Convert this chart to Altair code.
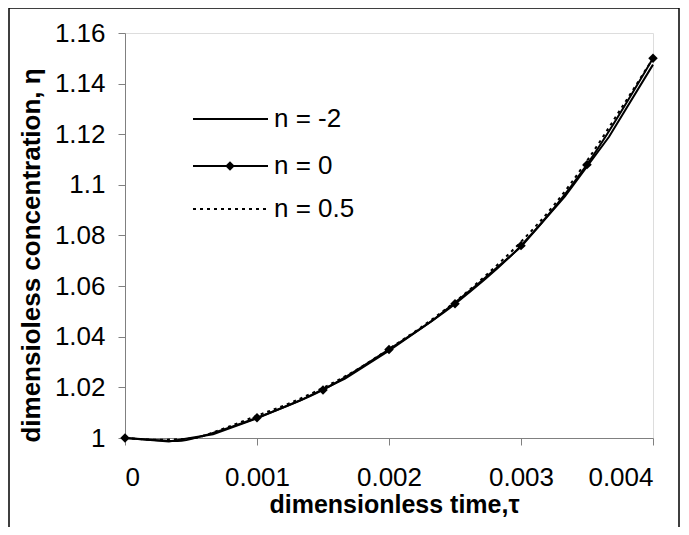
import altair as alt
import pandas as pd

# ---- data ----
# n = -2 (solid, coarse sampling)
tau_m2 = [0.0, 0.000333, 0.000667, 0.001, 0.001333, 0.001667, 0.002, 0.002333,
          0.002667, 0.003, 0.003333, 0.003667, 0.004]
eta_m2 = [1.000, 0.9986, 1.0015, 1.0078, 1.0150, 1.0235, 1.0345, 1.0465,
          1.0605, 1.0755, 1.0955, 1.1190, 1.1475]

# n = 0 (solid with diamond markers)
tau_0 = [0.0, 0.0002, 0.0004, 0.0006, 0.0008, 0.001, 0.0015, 0.002, 0.0025,
         0.003, 0.0035, 0.004]
eta_0 = [1.000, 0.9993, 0.9988, 1.0010, 1.0043, 1.008, 1.019, 1.035, 1.053,
         1.076, 1.108, 1.150]
tau_0_markers = [0.0, 0.001, 0.0015, 0.002, 0.0025, 0.003, 0.0035, 0.004]
eta_0_markers = [1.000, 1.008, 1.019, 1.035, 1.053, 1.076, 1.108, 1.150]

# n = 0.5 (dotted)
tau_05 = [0.0, 0.00025, 0.0005, 0.00075, 0.001, 0.00125, 0.0015, 0.00175,
          0.002, 0.00225, 0.0025, 0.00275, 0.003, 0.00325, 0.0035, 0.00375, 0.004]
eta_05 = [1.000, 0.9993, 0.9998, 1.0038, 1.0088, 1.0138, 1.0198, 1.0268,
          1.0352, 1.0440, 1.0538, 1.0650, 1.0775, 1.0920, 1.1095, 1.1295, 1.1500]

legend_labels = ["n = -2", "n = 0", "n = 0.5"]
x_ticks = [0, 0.001, 0.002, 0.003, 0.004]
y_ticks = [1.0, 1.02, 1.04, 1.06, 1.08, 1.10, 1.12, 1.14, 1.16]

FONT = "Liberation Sans"

df_m2 = pd.DataFrame({"tau": tau_m2, "eta": eta_m2})
df_0 = pd.DataFrame({"tau": tau_0, "eta": eta_0})
df_0m = pd.DataFrame({"tau": tau_0_markers, "eta": eta_0_markers})
df_05 = pd.DataFrame({"tau": tau_05, "eta": eta_05})

xscale = alt.Scale(domain=[0, 0.004], nice=False, zero=False)
yscale = alt.Scale(domain=[1.0, 1.16], nice=False, zero=False)

xaxis = alt.Axis(
    values=x_ticks, format="~g", grid=False,
    domainColor="#808080", tickColor="#808080", tickSize=7,
    labelFontSize=26, labelFont=FONT, labelColor="black", labelPadding=19,
    title="dimensionless time,τ", titleFont=FONT, titleFontSize=25,
    titleFontWeight="bold", titleColor="black",
    titleX=269, titleY=66, titleBaseline="middle", titleAnchor="middle",
)
yaxis = alt.Axis(
    values=y_ticks, format="~g", grid=False,
    domainColor="#808080", tickColor="#808080", tickSize=7,
    labelFontSize=26, labelFont=FONT, labelColor="black", labelPadding=13,
    title="dimensioless concentration, η", titleFont=FONT, titleFontSize=26,
    titleFontWeight="bold", titleColor="black",
    titleX=-94, titleY=222, titleAngle=270, titleBaseline="middle",
    titleAlign="center",
)

base_x = alt.X("tau:Q", scale=xscale, axis=xaxis)
base_y = alt.Y("eta:Q", scale=yscale, axis=yaxis)

line_m2 = alt.Chart(df_m2).mark_line(color="black", strokeWidth=2).encode(
    x=base_x, y=base_y)
line_0 = alt.Chart(df_0).mark_line(color="black", strokeWidth=2, interpolate="monotone").encode(
    x=alt.X("tau:Q", scale=xscale), y=alt.Y("eta:Q", scale=yscale))
pts_0 = alt.Chart(df_0m).mark_point(shape="diamond", filled=True, color="black",
                                    size=90, opacity=1).encode(
    x=alt.X("tau:Q", scale=xscale), y=alt.Y("eta:Q", scale=yscale))
line_05 = alt.Chart(df_05).mark_line(color="black", strokeWidth=2,
                                     strokeDash=[3, 4], interpolate="monotone").encode(
    x=alt.X("tau:Q", scale=xscale), y=alt.Y("eta:Q", scale=yscale))

one = pd.DataFrame({"k": [0]})

# legend (drawn inside plot)
leg_rows = [86, 133, 176]
leg_layers = []
for i, lab in enumerate(legend_labels):
    props = dict(color="black", strokeWidth=2)
    if i == 2:
        props["strokeDash"] = [3, 4]
    leg_layers.append(alt.Chart(one).mark_rule(**props).encode(
        x=alt.value(68), x2=alt.value(143), y=alt.value(leg_rows[i])))
    leg_layers.append(alt.Chart(pd.DataFrame({"label": [lab]})).mark_text(
        align="left", baseline="middle", font=FONT, fontSize=26, color="black").encode(
        x=alt.value(149), y=alt.value(leg_rows[i]), text="label:N"))
leg_layers.append(alt.Chart(one).mark_point(shape="diamond", filled=True, color="black",
                                            size=90, opacity=1).encode(
    x=alt.value(105), y=alt.value(leg_rows[1])))

frame = alt.Chart(one).mark_rect(fill=None, stroke="black", strokeWidth=1.5).encode(
    x=alt.value(-116), x2=alt.value(554), y=alt.value(-25), y2=alt.value(700))

chart = alt.layer(line_m2, line_0, line_05, pts_0, *leg_layers, frame).properties(
    width=528, height=405,
    autosize=alt.AutoSizeParams(type="none"),
    padding={"left": 117, "top": 25, "right": 28, "bottom": 89},
).configure_view(stroke=None).configure(background="white")

chart.save("out.html", embed_options={"renderer": "svg", "actions": False})
